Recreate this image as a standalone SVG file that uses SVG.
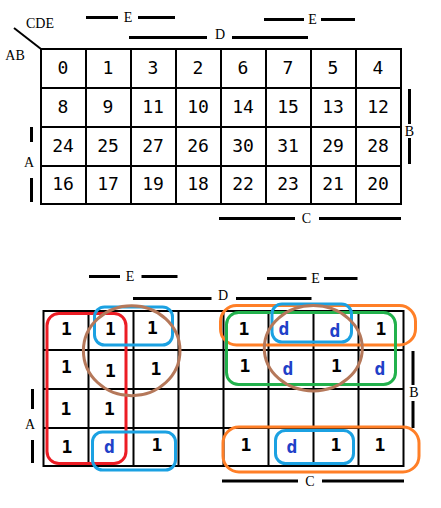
<svg xmlns="http://www.w3.org/2000/svg" width="441" height="508" viewBox="0 0 441 508">
<style>
.g{stroke:#000;stroke-width:2;fill:none}
.bar{stroke:#000;stroke-width:3;fill:none}
.lbl{font-family:"Liberation Serif",serif;font-size:14px;fill:#000;text-anchor:middle}
.n{font-family:"DejaVu Sans Mono",monospace;font-size:18px;fill:#000;text-anchor:middle}
.b{font-family:"DejaVu Sans Mono",monospace;font-size:18px;font-weight:bold;fill:#000;text-anchor:middle}
.d{fill:#2040c8}
.loop{fill:none;stroke-width:3}
</style>
<rect width="441" height="508" fill="#fff"/>
<g id="map1">
<path class="g" d="M41,49H401V204H41Z M86,49V204 M131,49V204 M176,49V204 M221,49V204 M266,49V204 M311,49V204 M356,49V204 M41,88H401 M41,127H401 M41,166H401"/>
<line x1="14" y1="28" x2="41" y2="49" stroke="#000" stroke-width="2"/>
<text class="lbl" x="40" y="27.5" font-size="13">CDE</text>
<text class="lbl" x="15" y="60" font-size="13">AB</text>
<path class="bar" d="M86,17.5H118 M138,17.5H175 M129,37.5H207 M232,37.5H308 M264,19.5H304 M321,19.5H355 M409.5,89V124 M409.5,138V164 M31.5,127V142 M31.5,178V202 M219,218.5H295 M319,218.5H401"/>
<text class="lbl" x="128" y="22">E</text>
<text class="lbl" x="220" y="39">D</text>
<text class="lbl" x="312.5" y="23.5">E</text>
<text class="lbl" x="409.5" y="136">B</text>
<text class="lbl" x="29" y="166.5">A</text>
<text class="lbl" x="306.5" y="223">C</text>
<g class="n">
<text x="63" y="74">0</text><text x="108" y="74">1</text><text x="153" y="74">3</text><text x="198" y="74">2</text><text x="243" y="74">6</text><text x="288" y="74">7</text><text x="333" y="74">5</text><text x="378" y="74">4</text>
<text x="63" y="113">8</text><text x="108" y="113">9</text><text x="153" y="113">11</text><text x="198" y="113">10</text><text x="243" y="113">14</text><text x="288" y="113">15</text><text x="333" y="113">13</text><text x="378" y="113">12</text>
<text x="63" y="151.5">24</text><text x="108" y="151.5">25</text><text x="153" y="151.5">27</text><text x="198" y="151.5">26</text><text x="243" y="151.5">30</text><text x="288" y="151.5">31</text><text x="333" y="151.5">29</text><text x="378" y="151.5">28</text>
<text x="63" y="190">16</text><text x="108" y="190">17</text><text x="153" y="190">19</text><text x="198" y="190">18</text><text x="243" y="190">22</text><text x="288" y="190">23</text><text x="333" y="190">21</text><text x="378" y="190">20</text>
</g>
</g>
<g id="map2">
<path class="g" d="M43.5,311H403.5V466H43.5Z M88.5,311V466 M133.5,311V466 M178.5,311V466 M223.5,311V466 M268.5,311V466 M313.5,311V466 M358.5,311V466 M43.5,350H403.5 M43.5,389H403.5 M43.5,428H403.5"/>
<path class="bar" d="M89,276.5H120 M141.5,276.5H177.5 M133,298.5H211.5 M236,298.5H311.5 M267,278.5H306.5 M324,278.5H357.5 M413,351V385 M413,401V428 M32.5,389V409 M32.5,440V463 M222,481H298 M322,481H404"/>
<text class="lbl" x="130" y="281">E</text>
<text class="lbl" x="223" y="300">D</text>
<text class="lbl" x="315.5" y="282.5">E</text>
<text class="lbl" x="414" y="397">B</text>
<text class="lbl" x="30" y="428.5">A</text>
<text class="lbl" x="310" y="486">C</text>
<g class="b">
<text x="66.5" y="335">1</text><text x="110.5" y="335">1</text><text x="152.5" y="334">1</text><text x="244" y="335">1</text><text class="d" x="284" y="335">d</text><text class="d" x="335" y="336.5">d</text><text x="381" y="335">1</text>
<text x="66.5" y="373">1</text><text x="110.5" y="376.5">1</text><text x="156" y="375">1</text><text x="245" y="372">1</text><text class="d" x="288" y="375">d</text><text x="336.5" y="372">1</text><text class="d" x="380" y="375">d</text>
<text x="66" y="415">1</text><text x="109.5" y="415">1</text>
<text x="67" y="453">1</text><text class="d" x="109.5" y="452.5">d</text><text x="157" y="451">1</text><text x="246" y="451">1</text><text class="d" x="292" y="452.5">d</text><text x="336" y="451">1</text><text x="380" y="451">1</text>
</g>
</g>
<g id="loops">
<rect class="loop" stroke="#ec1c24" x="47" y="313.5" width="79" height="150" rx="12"/>
<rect class="loop" stroke="#1ba1e2" x="94.5" y="307" width="78" height="38" rx="10"/>
<ellipse class="loop" stroke="#b5785a" cx="131.7" cy="350.7" rx="48.3" ry="45"/>
<rect class="loop" stroke="#1ba1e2" x="92.5" y="432" width="83" height="38" rx="10"/>
<rect class="loop" stroke="#ff7f27" x="220.5" y="305.5" width="195" height="39.5" rx="16"/>
<rect class="loop" stroke="#22b14c" x="226.5" y="312.5" width="169" height="72" rx="12"/>
<rect class="loop" stroke="#1ba1e2" x="272" y="304" width="79.5" height="38" rx="10"/>
<ellipse class="loop" stroke="#b5785a" cx="313.3" cy="348.3" rx="49" ry="42.7"/>
<rect class="loop" stroke="#ff7f27" x="223" y="427" width="196" height="45" rx="16"/>
<rect class="loop" stroke="#1ba1e2" x="275.5" y="430.5" width="78" height="33" rx="10"/>
</g>
</svg>
